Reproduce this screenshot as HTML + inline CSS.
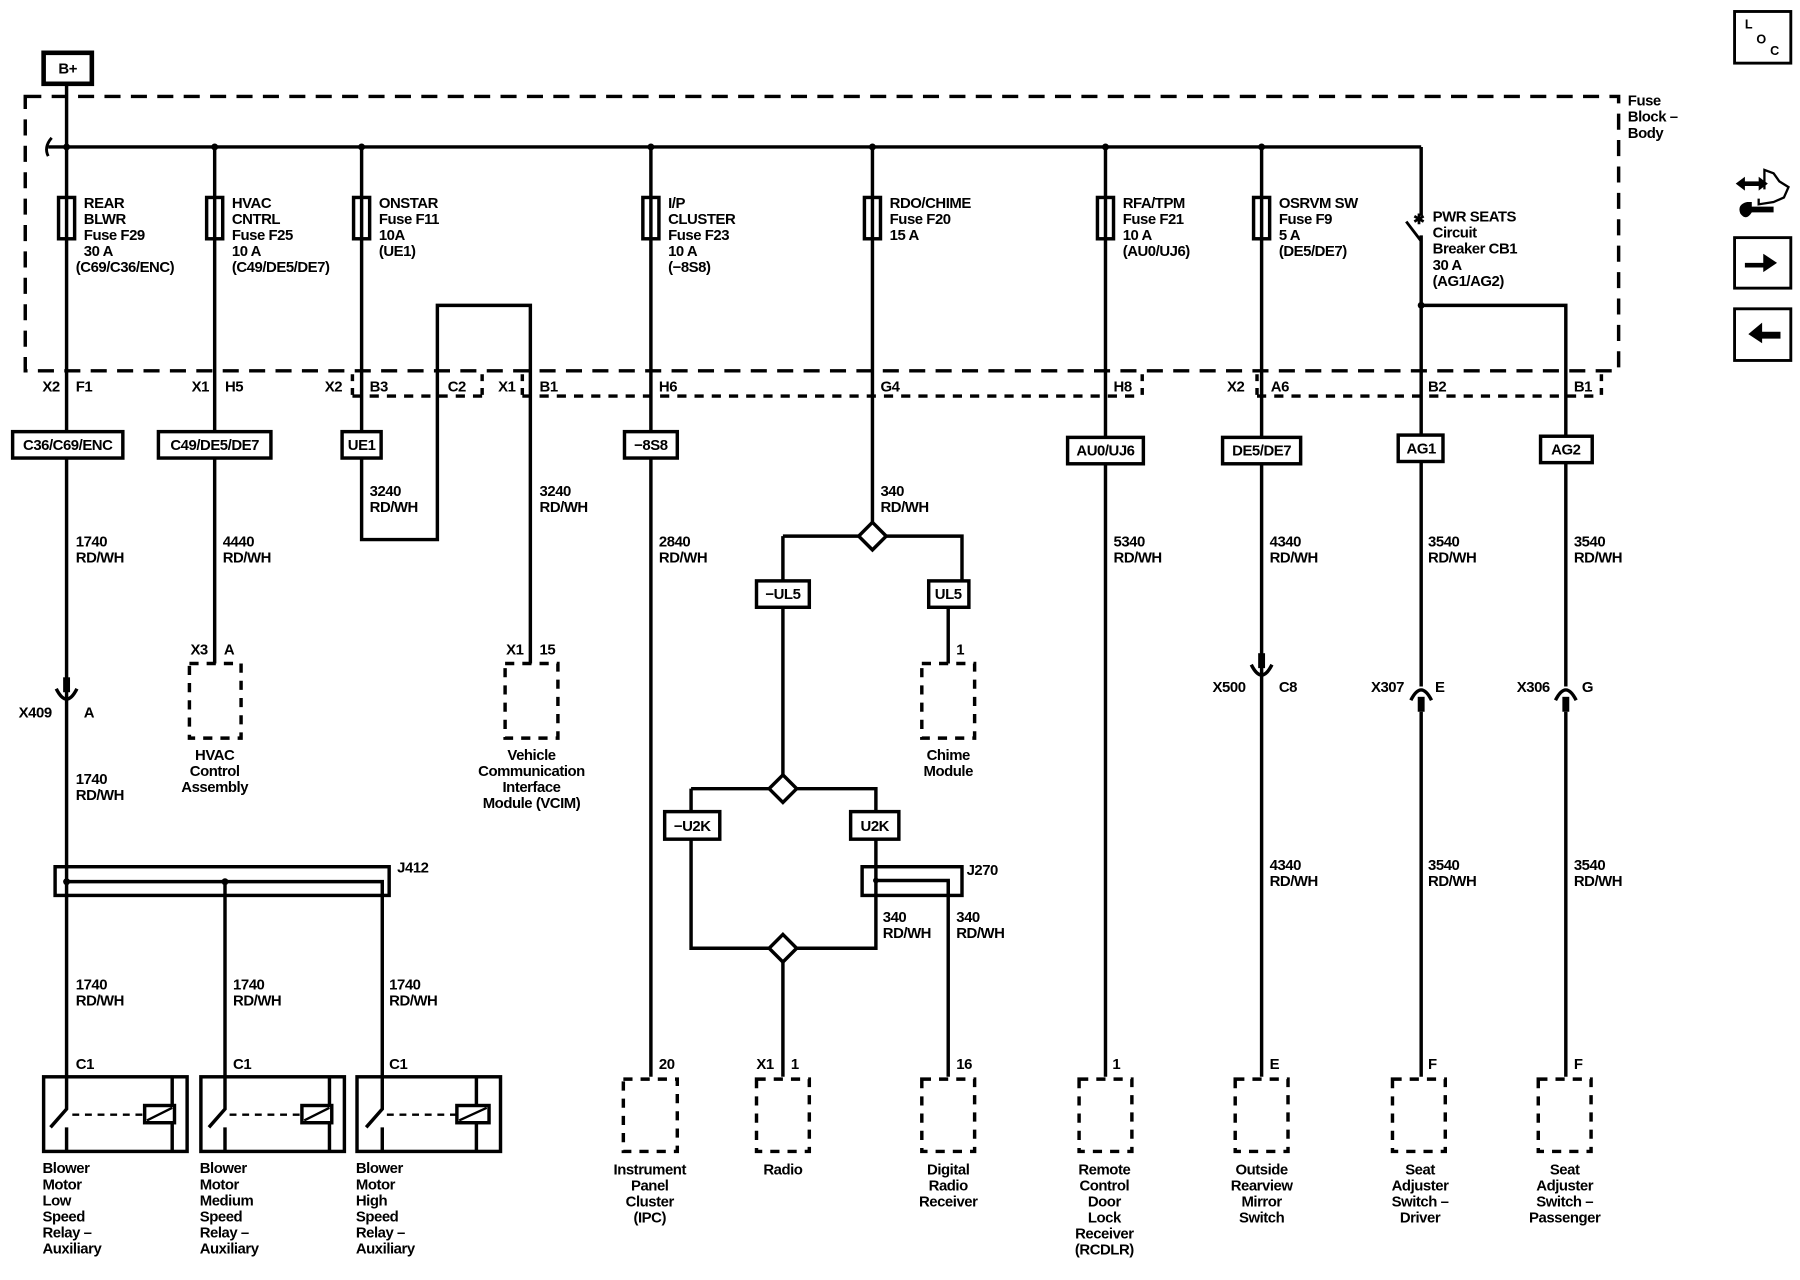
<!DOCTYPE html>
<html><head><meta charset="utf-8"><style>
html,body{margin:0;padding:0;background:#fff;}
svg{display:block;}
text{font-family:"Liberation Sans",Arial,sans-serif;font-size:13px;font-weight:bold;fill:#000;letter-spacing:-0.4px;}
.m{text-anchor:middle;}
.e{text-anchor:end;}
</style></head><body>
<svg width="1800" height="1280" viewBox="0 0 1568 1115" preserveAspectRatio="none" xmlns="http://www.w3.org/2000/svg">
<g fill="none" stroke="#000" stroke-width="3">
<rect x="38" y="46" width="42" height="27" stroke-width="4"/>
<rect x="22" y="84" width="1388" height="239" stroke-dasharray="14 9"/>
<path d="M307 345 H420 M455 345 H995 M1095 345 H1395" stroke-dasharray="8 7"/>
<path d="M307 326 V345 M420 326 V345 M455 326 V345 M995 326 V345 M1095 326 V345 M1395 326 V345" stroke-dasharray="6 6"/>
<path d="M58 73 V938 M42 128 H1238"/>
<path d="M45 120 Q38 128 42 136" stroke-width="2.5"/>
<path d="M187 128 V578 M315 128 V470 H381 V266 H462 V578"/>
<path d="M567 128 V938 M760 128 V455"/>
<path d="M963 128 V938 M1099 128 V938"/>
<path d="M1238 128 V188 M1238 205 V598 M1238 620 V938 M1238 266 H1364 V598 M1364 620 V938"/>
<path d="M1225 193 L1238 210" stroke-width="2.5"/>
<rect x="51" y="172" width="14" height="36" fill="#fff"/>
<rect x="180" y="172" width="14" height="36" fill="#fff"/>
<rect x="308" y="172" width="14" height="36" fill="#fff"/>
<rect x="560" y="172" width="14" height="36" fill="#fff"/>
<rect x="753" y="172" width="14" height="36" fill="#fff"/>
<rect x="956" y="172" width="14" height="36" fill="#fff"/>
<rect x="1092" y="172" width="14" height="36" fill="#fff"/>
<path d="M58 172 V208 M187 172 V208 M315 172 V208 M567 172 V208 M760 172 V208 M963 172 V208 M1099 172 V208"/>
<g fill="#fff">
<rect x="11" y="376" width="96" height="23"/>
<rect x="138" y="376" width="98" height="23"/>
<rect x="298" y="376" width="34" height="23"/>
<rect x="544" y="376" width="46" height="23"/>
<rect x="930" y="381" width="66" height="23"/>
<rect x="1065" y="381" width="68" height="23"/>
<rect x="1218" y="379" width="39" height="23"/>
<rect x="1342" y="380" width="45" height="23"/>
<rect x="659" y="506" width="46" height="23"/>
<rect x="809" y="506" width="35" height="23"/>
<rect x="579" y="707" width="48" height="24"/>
<rect x="741" y="707" width="42" height="24"/>
</g>
<path d="M682 467 H838 V506 M826 529 V578 M682 467 V506 M682 529 V675 M602 687 H763 V707 M602 687 V707 M602 731 V826 H763 V731 M682 838 V938 M826 767 V938"/>
<path d="M760 455 L772 467 L760 479 L748 467 Z M682 675 L694 687 L682 699 L670 687 Z M682 814 L694 826 L682 838 L670 826 Z" fill="#fff"/>
<rect x="751" y="755" width="87" height="25"/>
<path d="M763 767 H826 V780"/>
<rect x="48" y="755" width="291" height="25"/>
<path d="M58 768 H333 V938 M196 768 V938"/>
<path d="M49 600 Q58 618 67 600 M1090 579 Q1099 597 1108 579"/>
<path d="M1229 610 Q1238 592 1247 610 M1355 610 Q1364 592 1373 610"/>
<rect x="38" y="938" width="125" height="65"/><path d="M150 938 V1003 M58 938 V966 L44 982 M58 982 V1003"/>
<path d="M63 971 H126" stroke-dasharray="6 5" stroke-width="2"/><rect x="126" y="963" width="26" height="15" fill="#fff"/><path d="M128 976 L150 965" stroke-width="2"/>
<rect x="175" y="938" width="125" height="65"/><path d="M287 938 V1003 M196 938 V966 L182 982 M196 982 V1003"/>
<path d="M200 971 H263" stroke-dasharray="6 5" stroke-width="2"/><rect x="263" y="963" width="26" height="15" fill="#fff"/><path d="M265 976 L287 965" stroke-width="2"/>
<rect x="311" y="938" width="125" height="65"/><path d="M415 938 V1003 M333 938 V966 L319 982 M333 982 V1003"/>
<path d="M337 971 H398" stroke-dasharray="6 5" stroke-width="2"/><rect x="398" y="963" width="28" height="15" fill="#fff"/><path d="M400 976 L424 965" stroke-width="2"/>
<g stroke-dasharray="8 7">
<rect x="165" y="578" width="45" height="65"/>
<rect x="440" y="578" width="46" height="65"/>
<rect x="803" y="578" width="46" height="65"/>
<rect x="543" y="940" width="47" height="63"/>
<rect x="659" y="940" width="46" height="63"/>
<rect x="803" y="940" width="46" height="63"/>
<rect x="940" y="940" width="46" height="63"/>
<rect x="1076" y="940" width="46" height="63"/>
<rect x="1213" y="940" width="46" height="63"/>
<rect x="1340" y="940" width="46" height="63"/>
</g>
<rect x="1511" y="10" width="49" height="45" stroke-width="2.5"/>
<rect x="1511" y="207" width="49" height="44" stroke-width="2.5"/>
<rect x="1511" y="269" width="49" height="45" stroke-width="2.5"/>
<path d="M1537 165 V148 L1545 151 L1550 158 L1558 163 L1554 172 L1545 176 L1532 178 V173" stroke-width="2"/>
</g>
<g fill="#000">
<circle cx="58" cy="128" r="3"/><circle cx="187" cy="128" r="3"/><circle cx="315" cy="128" r="3"/><circle cx="567" cy="128" r="3"/><circle cx="760" cy="128" r="3"/><circle cx="963" cy="128" r="3"/><circle cx="1099" cy="128" r="3"/><circle cx="1238" cy="266" r="3"/>
<circle cx="58" cy="768" r="3"/><circle cx="196" cy="768" r="3"/><circle cx="763" cy="767" r="2.5"/>
<rect x="55" y="590" width="6" height="13"/><rect x="1096" y="569" width="6" height="13"/>
<rect x="1235" y="607" width="6" height="13"/><rect x="1361" y="607" width="6" height="13"/>
<path d="M1520 229 H1536 V221 L1548 229 L1536 237 V233 H1520 Z"/>
<path d="M1551 289 H1535 V281 L1523 291 L1535 299 V295 H1551 Z"/>
<path d="M1512 160 L1520 154 V158 H1532 V154 L1540 160 L1532 166 V162 H1520 V166 Z"/>
<path d="M1516 186 Q1513 178 1522 176 H1526 V180 H1545 V185 H1526 Q1521 193 1516 186 Z"/>
</g>
<text x="59" y="64" class="m">B+</text>
<text x="1520" y="25" style="font-size:11px">L</text><text x="1530" y="38" style="font-size:11px">O</text><text x="1542" y="48" style="font-size:11px">C</text>
<text x="73" y="181">REAR</text><text x="73" y="195">BLWR</text><text x="73" y="209">Fuse F29</text><text x="73" y="223">30 A</text><text x="66" y="237">(C69/C36/ENC)</text>
<text x="202" y="181">HVAC</text><text x="202" y="195">CNTRL</text><text x="202" y="209">Fuse F25</text><text x="202" y="223">10 A</text><text x="202" y="237">(C49/DE5/DE7)</text>
<text x="330" y="181">ONSTAR</text><text x="330" y="195">Fuse F11</text><text x="330" y="209">10A</text><text x="330" y="223">(UE1)</text>
<text x="582" y="181">I/P</text><text x="582" y="195">CLUSTER</text><text x="582" y="209">Fuse F23</text><text x="582" y="223">10 A</text><text x="582" y="237">(−8S8)</text>
<text x="775" y="181">RDO/CHIME</text><text x="775" y="195">Fuse F20</text><text x="775" y="209">15 A</text>
<text x="978" y="181">RFA/TPM</text><text x="978" y="195">Fuse F21</text><text x="978" y="209">10 A</text><text x="978" y="223">(AU0/UJ6)</text>
<text x="1114" y="181">OSRVM SW</text><text x="1114" y="195">Fuse F9</text><text x="1114" y="209">5 A</text><text x="1114" y="223">(DE5/DE7)</text>
<text x="1248" y="193">PWR SEATS</text><text x="1248" y="207">Circuit</text><text x="1248" y="221">Breaker CB1</text><text x="1248" y="235">30 A</text><text x="1248" y="249">(AG1/AG2)</text>
<text x="1231" y="195" style="font-size:12px">✱</text>
<text x="1418" y="92">Fuse</text><text x="1418" y="106">Block –</text><text x="1418" y="120">Body</text>
<text x="52" y="341" class="e">X2</text><text x="66" y="341">F1</text>
<text x="182" y="341" class="e">X1</text><text x="196" y="341">H5</text>
<text x="298" y="341" class="e">X2</text><text x="322" y="341">B3</text>
<text x="390" y="341">C2</text>
<text x="449" y="341" class="e">X1</text><text x="470" y="341">B1</text>
<text x="574" y="341">H6</text>
<text x="767" y="341">G4</text>
<text x="970" y="341">H8</text>
<text x="1084" y="341" class="e">X2</text><text x="1107" y="341">A6</text>
<text x="1244" y="341">B2</text>
<text x="1371" y="341">B1</text>
<text x="59" y="392" class="m">C36/C69/ENC</text>
<text x="187" y="392" class="m">C49/DE5/DE7</text>
<text x="315" y="392" class="m">UE1</text>
<text x="567" y="392" class="m">−8S8</text>
<text x="963" y="397" class="m">AU0/UJ6</text>
<text x="1099" y="397" class="m">DE5/DE7</text>
<text x="1238" y="395" class="m">AG1</text>
<text x="1364" y="396" class="m">AG2</text>
<text x="682" y="522" class="m">−UL5</text>
<text x="826" y="522" class="m">UL5</text>
<text x="603" y="724" class="m">−U2K</text>
<text x="762" y="724" class="m">U2K</text>
<text x="346" y="760">J412</text>
<text x="842" y="762">J270</text>
<text x="322" y="432">3240</text><text x="322" y="446">RD/WH</text>
<text x="470" y="432">3240</text><text x="470" y="446">RD/WH</text>
<text x="767" y="432">340</text><text x="767" y="446">RD/WH</text>
<text x="66" y="476">1740</text><text x="66" y="490">RD/WH</text>
<text x="194" y="476">4440</text><text x="194" y="490">RD/WH</text>
<text x="574" y="476">2840</text><text x="574" y="490">RD/WH</text>
<text x="970" y="476">5340</text><text x="970" y="490">RD/WH</text>
<text x="1106" y="476">4340</text><text x="1106" y="490">RD/WH</text>
<text x="1244" y="476">3540</text><text x="1244" y="490">RD/WH</text>
<text x="1371" y="476">3540</text><text x="1371" y="490">RD/WH</text>
<text x="66" y="683">1740</text><text x="66" y="697">RD/WH</text>
<text x="1106" y="758">4340</text><text x="1106" y="772">RD/WH</text>
<text x="1244" y="758">3540</text><text x="1244" y="772">RD/WH</text>
<text x="1371" y="758">3540</text><text x="1371" y="772">RD/WH</text>
<text x="769" y="803">340</text><text x="769" y="817">RD/WH</text>
<text x="833" y="803">340</text><text x="833" y="817">RD/WH</text>
<text x="66" y="862">1740</text><text x="66" y="876">RD/WH</text>
<text x="203" y="862">1740</text><text x="203" y="876">RD/WH</text>
<text x="339" y="862">1740</text><text x="339" y="876">RD/WH</text>
<text x="181" y="570" class="e">X3</text><text x="195" y="570">A</text>
<text x="456" y="570" class="e">X1</text><text x="470" y="570">15</text>
<text x="833" y="570">1</text>
<text x="45" y="625" class="e">X409</text><text x="73" y="625">A</text>
<text x="1085" y="603" class="e">X500</text><text x="1114" y="603">C8</text>
<text x="1223" y="603" class="e">X307</text><text x="1250" y="603">E</text>
<text x="1350" y="603" class="e">X306</text><text x="1378" y="603">G</text>
<text x="66" y="931">C1</text><text x="203" y="931">C1</text><text x="339" y="931">C1</text>
<text x="574" y="931">20</text>
<text x="674" y="931" class="e">X1</text><text x="689" y="931">1</text>
<text x="833" y="931">16</text>
<text x="969" y="931">1</text>
<text x="1106" y="931">E</text>
<text x="1244" y="931">F</text>
<text x="1371" y="931">F</text>
<text x="187" y="662" class="m">HVAC</text><text x="187" y="676" class="m">Control</text><text x="187" y="690" class="m">Assembly</text>
<text x="463" y="662" class="m">Vehicle</text><text x="463" y="676" class="m">Communication</text><text x="463" y="690" class="m">Interface</text><text x="463" y="704" class="m">Module (VCIM)</text>
<text x="826" y="662" class="m">Chime</text><text x="826" y="676" class="m">Module</text>
<text x="566" y="1023" class="m">Instrument</text><text x="566" y="1037" class="m">Panel</text><text x="566" y="1051" class="m">Cluster</text><text x="566" y="1065" class="m">(IPC)</text>
<text x="682" y="1023" class="m">Radio</text>
<text x="826" y="1023" class="m">Digital</text><text x="826" y="1037" class="m">Radio</text><text x="826" y="1051" class="m">Receiver</text>
<text x="962" y="1023" class="m">Remote</text><text x="962" y="1037" class="m">Control</text><text x="962" y="1051" class="m">Door</text><text x="962" y="1065" class="m">Lock</text><text x="962" y="1079" class="m">Receiver</text><text x="962" y="1093" class="m">(RCDLR)</text>
<text x="1099" y="1023" class="m">Outside</text><text x="1099" y="1037" class="m">Rearview</text><text x="1099" y="1051" class="m">Mirror</text><text x="1099" y="1065" class="m">Switch</text>
<text x="1237" y="1023" class="m">Seat</text><text x="1237" y="1037" class="m">Adjuster</text><text x="1237" y="1051" class="m">Switch –</text><text x="1237" y="1065" class="m">Driver</text>
<text x="1363" y="1023" class="m">Seat</text><text x="1363" y="1037" class="m">Adjuster</text><text x="1363" y="1051" class="m">Switch –</text><text x="1363" y="1065" class="m">Passenger</text>
<text x="37" y="1022">Blower</text><text x="37" y="1036">Motor</text><text x="37" y="1050">Low</text><text x="37" y="1064">Speed</text><text x="37" y="1078">Relay –</text><text x="37" y="1092">Auxiliary</text>
<text x="174" y="1022">Blower</text><text x="174" y="1036">Motor</text><text x="174" y="1050">Medium</text><text x="174" y="1064">Speed</text><text x="174" y="1078">Relay –</text><text x="174" y="1092">Auxiliary</text>
<text x="310" y="1022">Blower</text><text x="310" y="1036">Motor</text><text x="310" y="1050">High</text><text x="310" y="1064">Speed</text><text x="310" y="1078">Relay –</text><text x="310" y="1092">Auxiliary</text>
</svg>
</body></html>
